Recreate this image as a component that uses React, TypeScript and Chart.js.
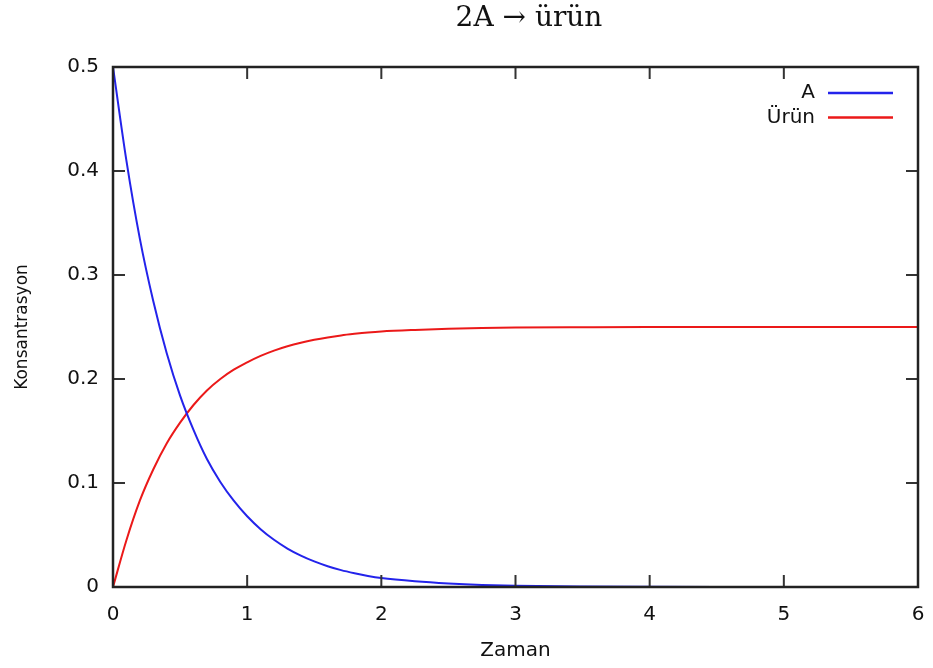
import React, { useEffect, useRef } from "react";
import { Chart, registerables } from "chart.js";

Chart.register(...registerables);

const times = [0, 0.1, 0.2, 0.3, 0.4, 0.5, 0.6, 0.7, 0.8, 0.9, 1.0, 1.1, 1.2, 1.3, 1.4, 1.5, 1.6, 1.7, 1.8, 1.9, 2.0, 2.25, 2.5, 2.75, 3.0, 3.5, 4.0, 4.5, 5.0, 5.5, 6.0];
const aValues = [0.5, 0.41, 0.335, 0.275, 0.225, 0.184, 0.151, 0.123, 0.101, 0.083, 0.068, 0.0556, 0.0454, 0.037, 0.0302, 0.0246, 0.02, 0.0162, 0.0132, 0.0106, 0.0086, 0.0055, 0.0034, 0.002, 0.0012, 0.0005, 0.0002, 0.0001, 0, 0, 0];
const urunValues = [0, 0.045, 0.083, 0.113, 0.138, 0.158, 0.175, 0.189, 0.2, 0.209, 0.216, 0.2222, 0.2273, 0.2315, 0.2349, 0.2377, 0.24, 0.2419, 0.2434, 0.2447, 0.2457, 0.2472, 0.2483, 0.249, 0.2494, 0.2497, 0.2499, 0.2499, 0.25, 0.25, 0.25];
const seriesNames = ["A", "Ürün"];
const seriesColors = ["rgb(35,35,235)", "rgb(235,25,25)"];
const xTicks = [0, 1, 2, 3, 4, 5, 6];
const yTicks = [0, 0.1, 0.2, 0.3, 0.4, 0.5];
const titleText = "2A → ürün";
const xTitle = "Zaman";
const yTitle = "Konsantrasyon";

const SANS = "'DejaVu Sans', Verdana, sans-serif";

const framePlugin = {
  id: "frameTicks",
  afterDatasetsDraw(chart: any) {
    const { ctx, chartArea, scales } = chart;
    const { left, right, top, bottom } = chartArea;
    const len = 12;
    ctx.save();
    ctx.strokeStyle = "#333";
    ctx.lineWidth = 2;
    xTicks.forEach((v) => {
      if (v === xTicks[0] || v === xTicks[xTicks.length - 1]) return;
      const px = scales.x.getPixelForValue(v);
      ctx.beginPath();
      ctx.moveTo(px, bottom);
      ctx.lineTo(px, bottom - len);
      ctx.moveTo(px, top);
      ctx.lineTo(px, top + len);
      ctx.stroke();
    });
    yTicks.forEach((v) => {
      if (v === yTicks[0] || v === yTicks[yTicks.length - 1]) return;
      const py = scales.y.getPixelForValue(v);
      ctx.beginPath();
      ctx.moveTo(left, py);
      ctx.lineTo(left + len, py);
      ctx.moveTo(right, py);
      ctx.lineTo(right - len, py);
      ctx.stroke();
    });
    ctx.strokeStyle = "#222";
    ctx.lineWidth = 2.5;
    ctx.strokeRect(left, top, right - left, bottom - top);

    // legend (gnuplot style)
    ctx.font = "20px " + SANS;
    ctx.textAlign = "right";
    ctx.textBaseline = "middle";
    chart.data.datasets.forEach((ds: any, i: number) => {
      const y = top + 26 + i * 24.5;
      ctx.fillStyle = "#111";
      ctx.fillText(ds.label, right - 103, y);
      ctx.strokeStyle = ds.borderColor;
      ctx.lineWidth = 2.5;
      ctx.beginPath();
      ctx.moveTo(right - 90, y);
      ctx.lineTo(right - 25, y);
      ctx.stroke();
    });

    // title
    ctx.font = "28px 'DejaVu Serif', serif";
    ctx.textAlign = "center";
    ctx.textBaseline = "middle";
    ctx.fillStyle = "#111";
    ctx.fillText(titleText, 529, 19);
    ctx.restore();
  },
};

export default function App() {
  const ref = useRef<HTMLCanvasElement>(null);
  useEffect(() => {
    document.body.style.margin = "0";
    const canvas = ref.current!;
    const chart = new Chart(canvas, {
      type: "line",
      data: {
        datasets: [
          {
            label: seriesNames[0],
            data: times.map((t, i) => ({ x: t, y: aValues[i] })),
            borderColor: seriesColors[0],
            borderWidth: 2,
            pointRadius: 0,
            cubicInterpolationMode: "monotone",
            fill: false,
          },
          {
            label: seriesNames[1],
            data: times.map((t, i) => ({ x: t, y: urunValues[i] })),
            borderColor: seriesColors[1],
            borderWidth: 2,
            pointRadius: 0,
            cubicInterpolationMode: "monotone",
            fill: false,
          },
        ],
      },
      options: {
        animation: false,
        responsive: false,
        maintainAspectRatio: false,
        layout: { padding: { left: 0, right: 15, top: 67, bottom: 0 } },
        plugins: {
          legend: { display: false },
          title: { display: false },
          tooltip: { enabled: false },
        },
        scales: {
          x: {
            type: "linear",
            min: 0,
            max: 6,
            afterBuildTicks: (scale: any) => {
              scale.ticks = xTicks.map((v) => ({ value: v }));
            },
            afterFit: (scale: any) => {
              scale.height = 81;
              scale.paddingLeft = 0;
              scale.paddingRight = 0;
            },
            grid: { display: false, drawTicks: false },
            border: { display: false },
            ticks: {
              padding: 16,
              color: "#111",
              font: { family: SANS, size: 20 },
              maxRotation: 0,
              callback: (v: any) => String(v),
            },
            title: {
              display: true,
              text: xTitle,
              color: "#111",
              font: { family: SANS, size: 20 },
              padding: { top: 0, bottom: 5 },
            },
          },
          y: {
            type: "linear",
            min: 0,
            max: 0.5,
            afterBuildTicks: (scale: any) => {
              scale.ticks = yTicks.map((v) => ({ value: v }));
            },
            afterFit: (scale: any) => {
              scale.width = 113;
              scale.paddingTop = 0;
              scale.paddingBottom = 0;
            },
            grid: { display: false, drawTicks: false },
            border: { display: false },
            ticks: {
              padding: 14,
              color: "#111",
              font: { family: SANS, size: 20 },
              callback: (v: any) => String(Math.round(v * 10) / 10),
            },
            title: {
              display: true,
              text: yTitle,
              color: "#111",
              font: { family: SANS, size: 17 },
              padding: { top: 12, bottom: 0 },
            },
          },
        },
      },
      plugins: [framePlugin],
    } as any);
    return () => chart.destroy();
  }, []);
  return (
    <div style={{ width: 933, height: 668, background: "#fff" }}>
      <canvas ref={ref} width={933} height={668} style={{ display: "block" }} />
    </div>
  );
}
